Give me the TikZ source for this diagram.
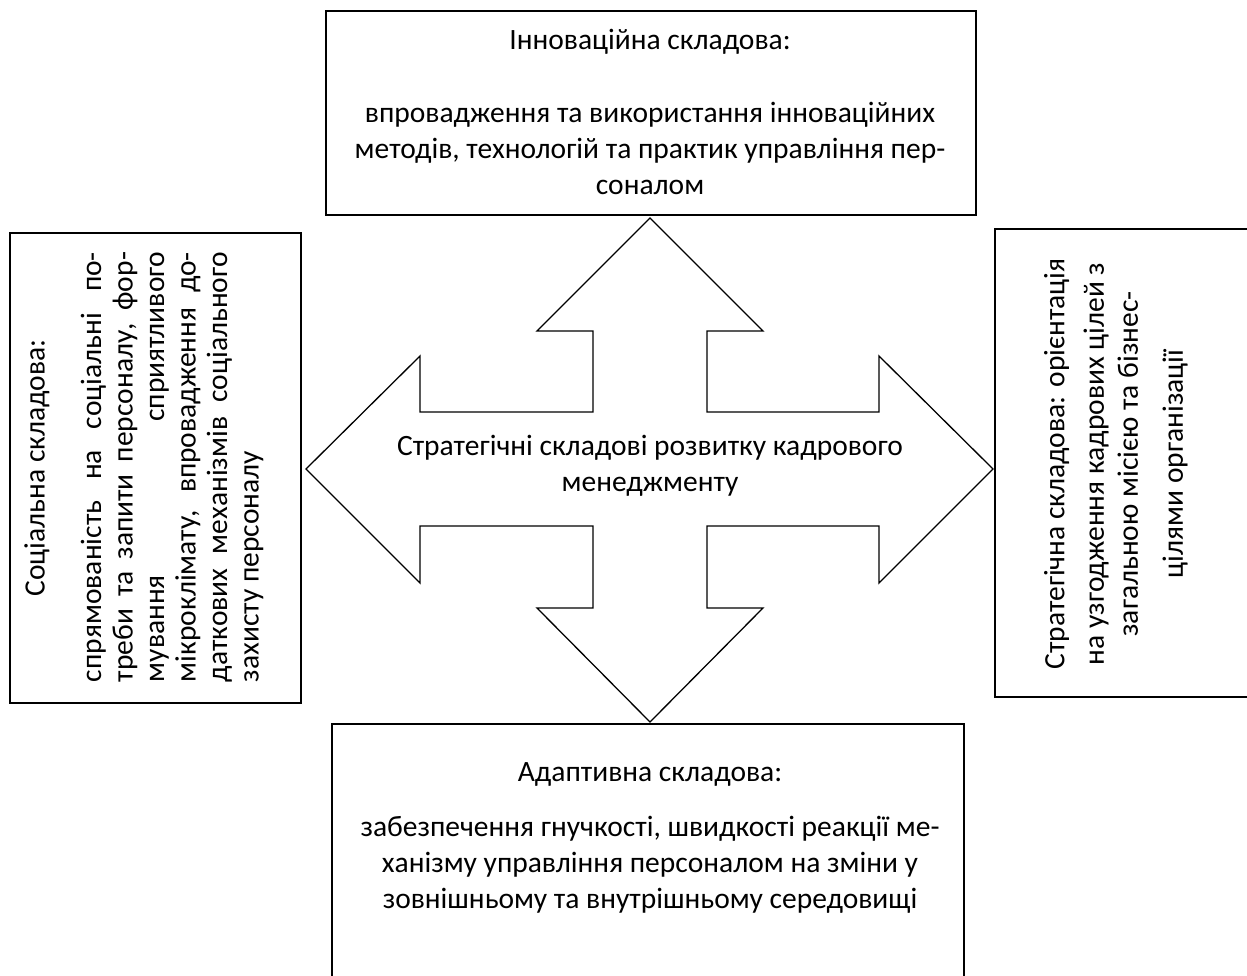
\documentclass[tikz,border=0pt]{standalone}
\usepackage{fontspec}
\setmainfont{Carlito}
\begin{document}
\begin{tikzpicture}[x=1pt,y=-1pt,
  boxline/.style={draw=black,line width=2pt},
  txt/.style={inner sep=0pt,font=\fontsize{29.5}{36}\selectfont},
]
\clip (0,0) rectangle (1247,976);
\fill[white] (0,0) rectangle (1247,976);
% boxes
\node[boxline,minimum width=650pt,minimum height=204pt,inner sep=0pt] (top) at (651,113) {};
\node[boxline,minimum width=291pt,minimum height=469pt,inner sep=0pt] (left) at (155,468) {};
\node[boxline,minimum width=280pt,minimum height=468pt,inner sep=0pt] (right) at (1135,463) {};
\node[boxline,minimum width=632pt,minimum height=290pt,inner sep=0pt] (bottom) at (648,869) {};
% cross arrow
\draw[line width=1.3pt,line join=miter]
  (650,218) -- (763,331) -- (707,331) -- (707,412) -- (879,412) -- (879,356)
  -- (993,469) -- (879,583) -- (879,526) -- (707,526) -- (707,608) -- (763,608)
  -- (650,722) -- (537,608) -- (593,608) -- (593,526) -- (420,526) -- (420,583)
  -- (306,469) -- (420,356) -- (420,412) -- (593,412) -- (593,331) -- (537,331) -- cycle;
% texts
\node[txt,align=center] (center) at (650,466) {Стратегічні складові розвитку кадрового\\менеджменту};
\node[txt] (toptitle) at (650,42) {Інноваційна складова:};
\node[txt,align=center] (topbody) at (650,148) {впровадження та використання інноваційних\\методів, технологій та практик управління пер-\\соналом};
\node[txt] (bottitle) at (650,774) {Адаптивна складова:};
\node[txt,align=center] (botbody) at (650,865) {забезпечення гнучкості, швидкості реакції ме-\\ханізму управління персоналом на зміни у\\зовнішньому та внутрішньому середовищі};
\node[txt,rotate=90] (lefttitle) at (37,468) {Соціальна складова:};
\node[txt,rotate=90,text width=430pt,align=justify,font=\fontsize{29.5}{31.5}\selectfont] (leftbody) at (172,467)
  {спрямованість на соціальні по-\linebreak треби та запити персоналу, фор-\linebreak мування сприятливого\linebreak мікроклімату, впровадження до-\linebreak даткових механізмів соціального захисту персоналу};
\node[txt,rotate=90,align=center,font=\fontsize{29.5}{39.5}\selectfont] (rightbody) at (1116,464)
  {Стратегічна складова: орієнтація\\на узгодження кадрових цілей з\\[-5.5pt]загальною місією та бізнес-\\[5.5pt]цілями організації};
\end{tikzpicture}
\end{document}
